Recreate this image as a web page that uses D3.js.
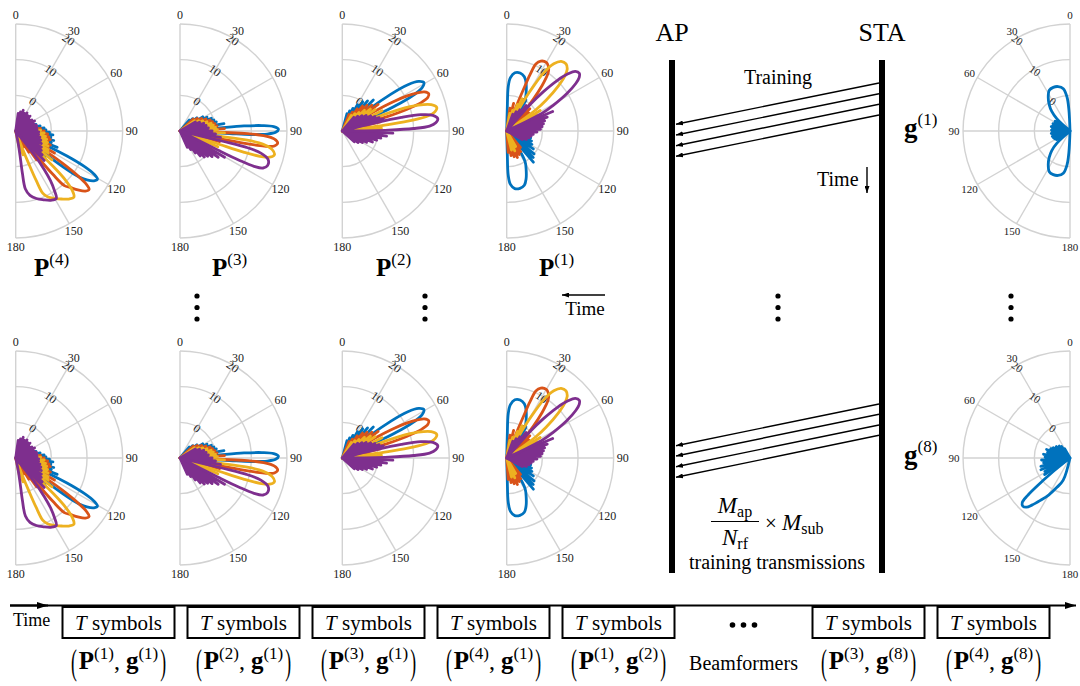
<!DOCTYPE html>
<html><head><meta charset="utf-8">
<script src="https://cdn.jsdelivr.net/npm/d3@7"></script>
<style>
body{margin:0;background:#fff;}
svg{display:block;font-family:'Liberation Serif','Times New Roman',serif;}
</style></head><body>
<svg id="chart" width="1080" height="686"></svg>
<script>
// ---------------- data ----------------
const angleTicks = [0, 30, 60, 90, 120, 150, 180];
const radialTicks = [0, 10, 20];
const radialDomain = [-10, 20];           // dB, centre = floor
const seriesColors = ['#0072BD', '#D95319', '#EDB120', '#7E2F8E'];

// main lobes: traced outline [angle deg, gain dB]; side lobes: peaks [angle, dB] (nulls fall below floor)
// P(4)
const P4_blue_main   = [[[114.5,-10],[115.2,0],[116,6],[117.3,11.5],[118.8,15],[120.5,16.6],[122.5,16],[124.5,14.2],[126,11.8],[127,7.5],[127.6,2],[128,-10]]];
const P4_orange_main = [[[123,-10],[123.8,0],[124.6,6],[125.8,11.5],[127,14.8],[128.5,16.3],[130.8,15.8],[133.5,14],[136,12],[138.3,10.5],[139.4,6],[140,0],[140.5,-10]]];
const P4_yellow_main = [[[132,-10],[132.7,0],[133.5,5],[134.6,9.5],[136.4,13],[138.6,14.7],[142,14.2],[146,13],[150,11.8],[154,10.6],[156.5,9],[157.5,5],[158.2,0],[159,-5],[160,-10]]];
const P4_purple_main = [[[140,-10],[141.8,-2],[143.5,3.5],[145,7],[147,10],[149,12.1],[153,11.8],[158,10.8],[163,9.8],[167.5,8.5],[170.5,6.5],[171,2],[170,-3],[168.5,-6.5],[167,-10]]];
const P4_blue_side   = [[60,-6],[66,-5],[72,-4],[78,-3],[84,-2],[88,-1.5],[92,-0.5],[96,0.5],[100,0],[104,1],[108,0.5],[111.5,2.5],[131.5,1],[135,-1.5],[140,-4],[146,-6]];
const P4_orange_side = [[66,-6],[72,-5],[78,-4],[84,-3],[90,-2],[95,-1],[100,-0.5],[104,0],[108,-0.5],[112,0.5],[116,0.2],[119.5,2.5],[144,0],[148,-3],[153,-5]];
const P4_yellow_side = [[70,-5],[76,-4.5],[82,-4],[88,-3],[94,-2],[100,-1.5],[105,-1],[110,-0.5],[115,0],[120,0.5],[124,1],[128.5,3],[163,-3],[168,-5]];
const P4_purple_side = [[8,-5],[14,-4.5],[20,-3.8],[26,-4.5],[32,-4],[38,-4.5],[44,-4.2],[50,-5],[56,-4.5],[62,-4],[68,-4.5],[74,-4],[80,-4],[86,-4],[92,-3.5],[98,-3.5],[104,-3],[110,-2.5],[116,-2],[122,-1.5],[127,-1],[132,0],[136,1.5]];
// P(3)
const P3_blue_main   = [[[86,-10],[85.5,0],[85.5,8],[86.2,13],[87.3,16.3],[89,17.6],[90.8,16.8],[92,14.5],[92.8,10],[93,4],[93,-10]]];
const P3_orange_main = [[[92.5,-10],[92,2],[92.2,9],[93.2,13.5],[94.8,16.5],[97,17.6],[99,16.8],[100.2,14],[100.8,9],[101,2],[101,-10]]];
const P3_yellow_main = [[[98,-10],[97.5,2],[97.8,9],[99,13.5],[101.3,16.3],[104,17.3],[106.3,16.2],[107.6,13.5],[108.4,9],[108.7,2],[108.8,-10]]];
const P3_purple_main = [[[104,-10],[103.5,2],[103.8,9],[105.3,13.5],[108,16],[111.5,16.4],[114,15.5],[115.5,13],[116.3,8.5],[116.7,2],[116.8,-10]]];
const P3_blue_side   = [[40,-6],[46,-5],[52,-4],[58,-2.5],[63,-1.5],[68,-0.5],[72,0],[76,0.5],[80.5,2.5],[97.5,1.5],[102,-1],[108,-3],[114,-4],[120,-5]];
const P3_orange_side = [[48,-5],[54,-4],[60,-3],[65,-2],[70,-1],[74,-0.5],[78,0],[82,0.5],[87,2.5],[105,1.5],[110,-1],[116,-3],[122,-4.5]];
const P3_yellow_side = [[55,-5],[61,-4],[66,-3],[71,-2],[76,-1],[80,-0.5],[84,0],[88,0.5],[92.5,2.5],[112.5,1.5],[118,-1.5],[124,-3],[130,-5]];
const P3_purple_side = [[60,-5],[66,-4],[72,-3],[78,-2.5],[84,-2],[90,-1],[94.5,0],[99,1.5],[120.5,4.5],[124.5,3],[128.5,1.5],[132.5,0.5],[137,0],[141,-1],[145,-2.5],[150,-4],[156,-5]];
// P(2)
const P2_blue_main   = [[[50.5,-10],[51,0],[52.8,7],[54.8,12.5],[57,15.5],[59.3,16.6],[61.5,15.5],[63,13],[64.3,8],[65,2],[65.5,-10]]];
const P2_orange_main = [[[58,-10],[58.5,0],[60.3,7],[62.5,12.5],[64.5,15.5],[66.7,16.4],[68.5,15.8],[70.2,13.5],[71.5,9],[72.3,3],[72.5,-10]]];
const P2_yellow_main = [[[67.5,-10],[68,0],[69.3,7],[71.2,12.5],[73.5,16],[76,17.3],[78.3,16.5],[80,14.5],[81.3,10],[82,3],[82.3,-10]]];
const P2_purple_main = [[[75.5,-10],[76,0],[77,7],[78.3,12.5],[80.2,15.8],[82.6,17],[85,16.3],[86.8,14.5],[88,10],[88.8,3],[89,-10]]];
const P2_blue_side   = [[15,-5],[20,-4],[25,-3],[30,-1.5],[35,0],[40,1],[45,2.3],[69.5,1],[74,-1.5],[79,-3],[85,-4],[91,-5],[97,-6]];
const P2_orange_side = [[22,-5],[28,-4],[34,-2.5],[39,-1],[44,0],[49,1],[53.5,2.5],[76.5,1],[81,-1.5],[86,-3],[92,-4],[98,-5]];
const P2_yellow_side = [[30,-5],[36,-4],[42,-3],[47,-1.5],[52,0],[57,1],[63,2.5],[86,1],[90.5,-1.5],[96,-3],[102,-4],[108,-5]];
const P2_purple_side = [[40,-5],[46,-4],[52,-3],[57,-2],[62,-1],[66,0],[70,1],[73.5,2],[92.5,4.2],[96.5,2.5],[100.5,1],[105,0],[110,-1],[115,-2.5],[120,-3.5],[126,-4.5],[132,-5.5]];
// P(1)
const P1_blue_main   = [[[1,-10],[1.5,-4],[2,2.5],[4,5],[8,6.5],[13,6.7],[18,6],[22,4.5],[27,2],[31,0],[34,-4],[36,-10]],
                        [[179,-10],[178.5,-4],[178,2.5],[176,5],[172,6.3],[167,6.5],[162,6],[158,4.5],[153,2],[149,0],[146,-4],[144,-10]]];
const P1_orange_main = [[[20,-10],[21,-3.5],[22,3],[22.5,7],[23.5,10.5],[26,11.8],[30,12.2],[33,11.5],[35.5,10],[38,6],[40,1.5],[41.5,-3],[42,-10]]];
const P1_yellow_main = [[[29,-10],[29.5,0],[31,5],[32.5,9.5],[35,13],[38,14.8],[41.5,15.1],[44.5,14.2],[46.5,12.5],[49,9],[52,4],[54,0],[55,-10]]];
const P1_purple_main = [[[41,-10],[41.5,0],[43,5],[45,10],[47,13.5],[49,15.5],[51.5,16],[53.5,15.3],[55.5,13.5],[58,10],[61,5],[63.5,1],[65,-10]]];
const P1_blue_side   = [[40,-4],[46,-3],[52,-3.5],[58,-4.5],[100,-4],[106,-3],[112,-2.5],[118,-2],[124,-1],[130,0],[135,0.5],[139.5,1.5]];
const P1_orange_side = [[8,-3.5],[14,-2],[46,-1],[51,-2],[56,-3],[62,-4],[140,-4],[146,-3],[152,-2.5],[158,-2],[164,-2.5],[170,-3],[176,-4]];
const P1_yellow_side = [[10,-5],[16,-4],[22,-2],[25.5,0],[58.5,1],[62.5,-0.5],[67,-2],[72,-3],[78,-4],[84,-5],[150,-5],[158,-4],[166,-4.5]];
const P1_purple_side = [[20,-5],[26,-4],[32,-3],[37,-1],[67,4],[71,2],[75,1],[79,0.5],[83,0],[87,-0.5],[92,-1.5],[97,-2.5],[102,-3],[107,-3.5],[113,-4],[119,-5]];
// STA combiners g(1), g(8)
const G1_main = [[[2,-10],[3,-4],[5,-0.5],[9,2],[15,2.9],[21,3.1],[27,2.8],[33,1.2],[38,-0.5],[43,-2.5],[47,-5],[50,-10]],
                 [[178,-10],[177,-4],[175,-0.5],[171,2],[165,2.9],[159,3.1],[153,2.8],[147,1.2],[142,-0.5],[137,-2.5],[133,-5],[130,-10]]];
const G1_side = [[52,-5.5],[57,-5],[62,-5.2],[67,-4.8],[72,-5],[77,-4.6],[82,-5],[87,-4.8],[92,-5],[97,-4.7],[102,-5],[107,-4.8],[112,-5],[117,-5.2],[122,-5.5],[127,-6]];
const G8_main = [[[128,-10],[129,-3],[130.5,2.5],[131.5,6],[133,8.3],[135.5,8.9],[138.5,8.4],[141,7],[145,4.5],[150,2],[156,-1],[163,-3.5],[168,-10]]];
const G8_side = [[30,-7],[36,-6],[42,-5.5],[50,-5],[58,-4.5],[64,-4],[70,-3],[76,-3.5],[82,-2.5],[88,-3],[94,-2],[100,-2.5],[106,-1.5],[112,-1.2],[118,-2],[123,-1.5]];

const precoderLabels = ['4', '3', '2', '1'];
const combinerLabels = ['1', '8'];
const slotPrecoders = ['1', '2', '3', '4', '1', null, '3', '4'];
const slotCombiners = ['1', '1', '1', '1', '2', null, '8', '8'];

// ---------------- drawing ----------------
const svg = d3.select('#chart');
const defs = svg.append('defs');
function marker(id, w, h) {
  defs.append('marker').attr('id', id).attr('markerUnits', 'userSpaceOnUse')
    .attr('markerWidth', w).attr('markerHeight', h).attr('refX', w).attr('refY', h / 2)
    .attr('orient', 'auto')
    .append('path').attr('d', `M0,0 L${w},${h/2} L0,${h} z`).attr('fill', '#000');
}
marker('ah', 7, 5);
marker('ahBig', 11, 7);

const R = 107;
const rScale = d3.scaleLinear().domain(radialDomain).range([0, R]).clamp(true);

function drawPolar(cx, cy, mirror, beams, fs) {
  const s = mirror ? -1 : 1;
  const g = svg.append('g').attr('transform', `translate(${cx},${cy})`);
  const pt = (deg, rad) => [s * rad * Math.sin(deg * Math.PI / 180), -rad * Math.cos(deg * Math.PI / 180)];
  const grid = g.append('g').attr('stroke', '#d2d2d2').attr('stroke-width', 1.4).attr('fill', 'none');
  radialTicks.forEach(t => {
    const rr = rScale(t);
    grid.append('path').attr('d', `M0,${-rr} A${rr},${rr} 0 0 ${mirror ? 0 : 1} 0,${rr}`);
  });
  angleTicks.forEach(a => {
    const [x, y] = pt(a, R);
    grid.append('line').attr('x1', 0).attr('y1', 0).attr('x2', x).attr('y2', y);
  });
  angleTicks.forEach(a => {
    const [x, y] = pt(a, R + 9);
    g.append('text').attr('x', x).attr('y', y).attr('text-anchor', 'middle')
      .attr('dominant-baseline', 'central').attr('font-size', fs).attr('fill', '#222').text(a);
  });
  radialTicks.forEach(t => {
    const [x, y] = pt(30, rScale(t) - 1.5);
    g.append('text').attr('transform', `translate(${x},${y}) rotate(35)`).attr('text-anchor', 'middle')
      .attr('dominant-baseline', 'central').attr('font-size', fs).attr('fill', '#222').text(t);
  });
  const lobe = d3.lineRadial().angle(d => s * d[0] * Math.PI / 180).radius(d => rScale(d[1]))
    .curve(d3.curveCatmullRom.alpha(0.5));
  const spikes = d3.lineRadial().angle(d => s * d[0] * Math.PI / 180).radius(d => rScale(d[1]));
  beams.forEach(b => {
    const bg = g.append('g').attr('stroke', b.color).attr('fill', 'none').attr('stroke-width', 2.8)
      .attr('stroke-linejoin', 'round').attr('stroke-linecap', 'round');
    bg.append('path').attr('d', spikes(b.side.flatMap(d => [[d[0], radialDomain[0]], d, [d[0], radialDomain[0]]])));
    b.main.forEach(m => bg.append('path').attr('d', lobe(m)));
  });
}

const colBeams = [
  [[P4_blue_main, P4_blue_side], [P4_orange_main, P4_orange_side], [P4_yellow_main, P4_yellow_side], [P4_purple_main, P4_purple_side]],
  [[P3_blue_main, P3_blue_side], [P3_orange_main, P3_orange_side], [P3_yellow_main, P3_yellow_side], [P3_purple_main, P3_purple_side]],
  [[P2_blue_main, P2_blue_side], [P2_orange_main, P2_orange_side], [P2_yellow_main, P2_yellow_side], [P2_purple_main, P2_purple_side]],
  [[P1_blue_main, P1_blue_side], [P1_orange_main, P1_orange_side], [P1_yellow_main, P1_yellow_side], [P1_purple_main, P1_purple_side]]
].map(col => col.map((b, i) => ({ main: b[0], side: b[1], color: seriesColors[i] })));

const colX = [15.7, 180, 342.3, 506.7];
const rowY = [131, 458];
rowY.forEach(cy => colX.forEach((cx, i) => drawPolar(cx, cy, false, colBeams[i], 12)));
drawPolar(1070, rowY[0], true, [{ main: G1_main, side: G1_side, color: seriesColors[0] }], 11);
drawPolar(1070, rowY[1], true, [{ main: G8_main, side: G8_side, color: seriesColors[0] }], 11);

// bold symbol with superscript
function symLabel(x, y, sym, sup, fs, sfs) {
  const t = svg.append('text').attr('x', x).attr('y', y);
  t.append('tspan').attr('font-weight', 'bold').attr('font-size', fs).text(sym);
  t.append('tspan').attr('font-size', sfs).attr('dy', -fs * 0.45).text(`(${sup})`);
  return t;
}
const pLabelX = [34, 212, 376, 539];
precoderLabels.forEach((p, i) => symLabel(pLabelX[i], 276, 'P', p, 25, 17));
symLabel(904, 137, 'g', combinerLabels[0], 27, 17);
symLabel(904, 464, 'g', combinerLabels[1], 27, 17);

// vertical ellipses
[197, 425, 778, 1011].forEach(x => [296, 307.5, 319].forEach(y =>
  svg.append('circle').attr('cx', x).attr('cy', y).attr('r', 2.6).attr('fill', '#000')));

// middle Time arrow
svg.append('line').attr('x1', 605).attr('y1', 295).attr('x2', 562).attr('y2', 295)
  .attr('stroke', '#000').attr('stroke-width', 1.5).attr('marker-end', 'url(#ah)');
svg.append('text').attr('x', 585).attr('y', 315).attr('text-anchor', 'middle').attr('font-size', 19).text('Time');

// AP / STA
svg.append('rect').attr('x', 669).attr('y', 60).attr('width', 6).attr('height', 513).attr('fill', '#000');
svg.append('rect').attr('x', 879).attr('y', 60).attr('width', 6).attr('height', 513).attr('fill', '#000');
svg.append('text').attr('x', 672).attr('y', 41).attr('text-anchor', 'middle').attr('font-size', 26).text('AP');
svg.append('text').attr('x', 882).attr('y', 41).attr('text-anchor', 'middle').attr('font-size', 26).text('STA');
svg.append('text').attr('x', 778).attr('y', 84).attr('text-anchor', 'middle').attr('font-size', 20).text('Training');

const arrowSets = [
  { y0: [83, 93.7, 104.3, 115], y1: [124.3, 135, 145.7, 156.3] },
  { y0: [404, 414.3, 425, 435.3], y1: [445.7, 456, 466.7, 477.3] }
];
arrowSets.forEach(s => s.y0.forEach((y, i) =>
  svg.append('line').attr('x1', 879).attr('y1', y).attr('x2', 676).attr('y2', s.y1[i])
    .attr('stroke', '#000').attr('stroke-width', 1.4).attr('marker-end', 'url(#ah)')));

svg.append('text').attr('x', 817).attr('y', 186).attr('font-size', 20).text('Time');
svg.append('line').attr('x1', 867).attr('y1', 167).attr('x2', 867).attr('y2', 193)
  .attr('stroke', '#000').attr('stroke-width', 1.4).attr('marker-end', 'url(#ah)');

// fraction
const num = svg.append('text').attr('x', 735).attr('y', 513).attr('text-anchor', 'middle');
num.append('tspan').attr('font-style', 'italic').attr('font-size', 23).text('M');
num.append('tspan').attr('font-size', 16).attr('dy', 4).text('ap');
svg.append('line').attr('x1', 711).attr('x2', 759).attr('y1', 521.5).attr('y2', 521.5).attr('stroke', '#000').attr('stroke-width', 1.1);
const den = svg.append('text').attr('x', 735).attr('y', 545).attr('text-anchor', 'middle');
den.append('tspan').attr('font-style', 'italic').attr('font-size', 23).text('N');
den.append('tspan').attr('font-size', 16).attr('dy', 4).text('rf');
const tm = svg.append('text').attr('x', 765).attr('y', 530);
tm.append('tspan').attr('font-size', 21).text('× ');
tm.append('tspan').attr('font-style', 'italic').attr('font-size', 23).text('M');
tm.append('tspan').attr('font-size', 16).attr('dy', 4).text('sub');
svg.append('text').attr('x', 777).attr('y', 569).attr('text-anchor', 'middle').attr('font-size', 20).text('training transmissions');

// bottom timeline
svg.append('line').attr('x1', 10).attr('y1', 605.5).attr('x2', 1076).attr('y2', 605.5)
  .attr('stroke', '#000').attr('stroke-width', 2).attr('marker-end', 'url(#ahBig)');
svg.append('line').attr('x1', 10).attr('y1', 605.5).attr('x2', 48).attr('y2', 605.5)
  .attr('stroke', '#000').attr('stroke-width', 2).attr('marker-end', 'url(#ahBig)');
svg.append('text').attr('x', 13).attr('y', 626).attr('font-size', 18).text('Time');

const slotX = d3.range(slotPrecoders.length).map(i => 118.5 + 125 * i);
slotPrecoders.forEach((p, i) => {
  const cx = slotX[i];
  if (p === null) {
    [-11, 0, 11].forEach(dx => svg.append('circle').attr('cx', cx + dx).attr('cy', 625).attr('r', 2.8).attr('fill', '#000'));
    svg.append('text').attr('x', cx).attr('y', 670).attr('text-anchor', 'middle').attr('font-size', 20).text('Beamformers');
    return;
  }
  svg.append('rect').attr('x', cx - 56).attr('y', 607).attr('width', 112).attr('height', 31)
    .attr('fill', 'none').attr('stroke', '#000').attr('stroke-width', 2);
  const t = svg.append('text').attr('x', cx).attr('y', 629.5).attr('text-anchor', 'middle').attr('font-size', 21);
  t.append('tspan').attr('font-style', 'italic').text('T');
  t.append('tspan').text(' symbols');
  const l = svg.append('text').attr('x', cx).attr('y', 669).attr('text-anchor', 'middle');
  l.append('tspan').attr('font-weight', 'bold').attr('font-size', 25).text('P');
  l.append('tspan').attr('font-size', 17).attr('dy', -10).text(`(${p})`);
  l.append('tspan').attr('font-size', 24).attr('dy', 10).text(', ');
  l.append('tspan').attr('font-weight', 'bold').attr('font-size', 25).text('g');
  l.append('tspan').attr('font-size', 17).attr('dy', -10).text(`(${slotCombiners[i]})`);
  const w = l.node().getComputedTextLength();
  [['(', cx - w / 2 - 2, 'end'], [')', cx + w / 2 + 2, 'start']].forEach(([ch, x, a]) =>
    svg.append('text').attr('transform', `translate(${x},${662}) scale(0.8,1.6)`).attr('text-anchor', a)
      .attr('dominant-baseline', 'central').attr('font-size', 22).text(ch));
});
</script>
</body></html>
